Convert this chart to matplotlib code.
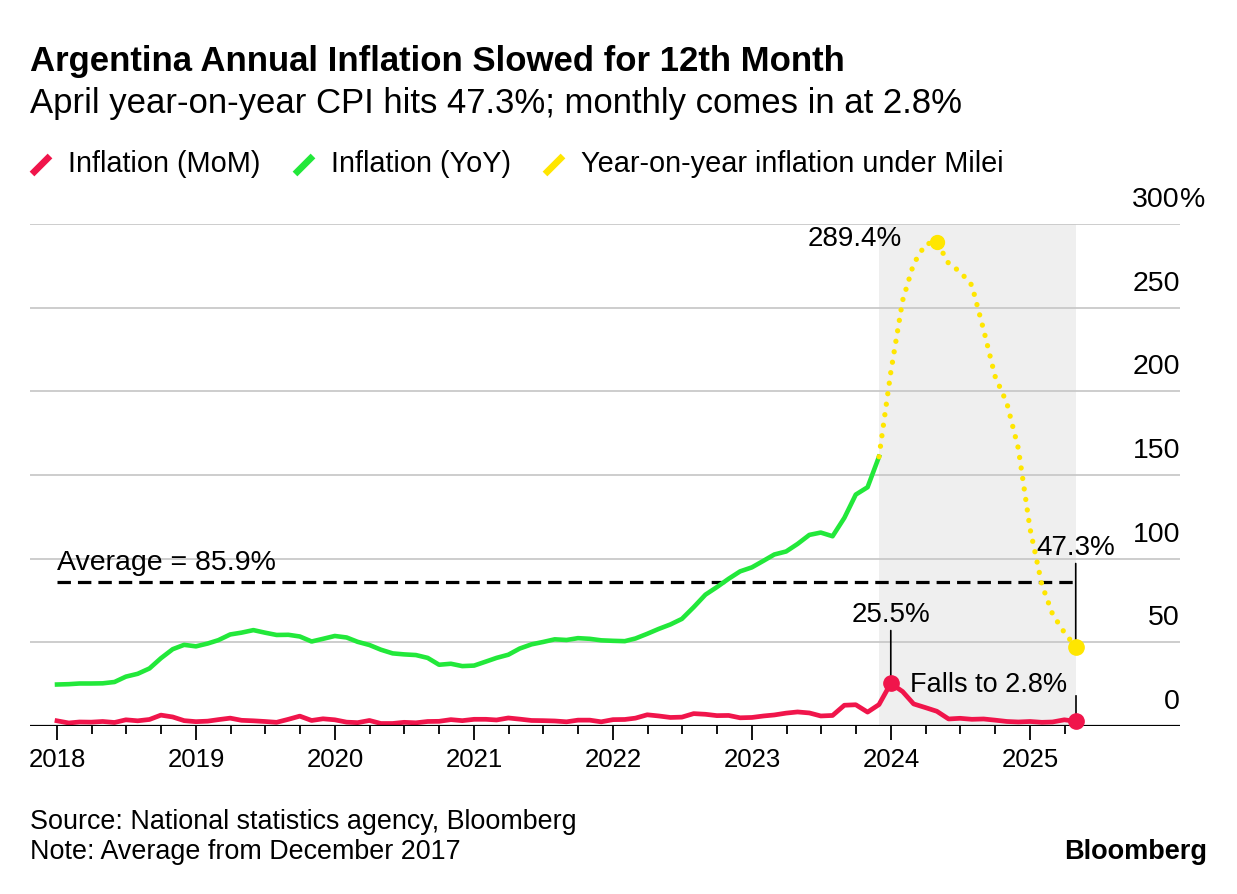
import numpy as np
import pandas as pd
import matplotlib
matplotlib.use("Agg")
import matplotlib.pyplot as plt
import matplotlib.dates as mdates
import matplotlib.transforms as mtransforms
from matplotlib.lines import Line2D

plt.rcParams['font.family'] = ['Liberation Sans', 'DejaVu Sans']

# month-end dates, Dec 2017 .. Apr 2025
months = pd.date_range("2017-12-31", "2025-04-30", freq="ME")

# year-on-year CPI, %
yoy = [24.8,
       25.0, 25.4, 25.4, 25.5, 26.3, 29.5, 31.2, 34.4, 40.5, 45.9, 48.5, 47.6,
       49.3, 51.3, 54.7, 55.8, 57.3, 55.8, 54.4, 54.5, 53.5, 50.5, 52.1, 53.8,
       52.9, 50.3, 48.4, 45.6, 43.4, 42.8, 42.4, 40.7, 36.6, 37.2, 35.8, 36.1,
       38.5, 40.7, 42.6, 46.3, 48.8, 50.2, 51.8, 51.4, 52.5, 52.1, 51.2, 50.9,
       50.7, 52.3, 55.1, 58.0, 60.7, 64.0, 71.0, 78.5, 83.0, 88.0, 92.4, 94.8,
       98.8, 102.5, 104.3, 108.8, 114.2, 115.6, 113.4, 124.4, 138.3, 142.7, 160.9, 211.4,
       254.2, 276.2, 287.9, 289.4, 276.4, 271.5, 263.4, 236.7, 209.0, 193.0, 166.0, 117.8,
       84.5, 66.9, 55.9, 47.3]

# month-on-month CPI, %
mom = [3.1,
       1.8, 2.4, 2.3, 2.7, 2.1, 3.7, 3.1, 3.9, 6.5, 5.4, 3.2, 2.6,
       2.9, 3.8, 4.7, 3.4, 3.1, 2.7, 2.2, 4.0, 5.9, 3.3, 4.3, 3.7,
       2.3, 2.0, 3.3, 1.5, 1.5, 2.2, 1.9, 2.7, 2.8, 3.8, 3.2, 4.0,
       4.0, 3.6, 4.8, 4.1, 3.3, 3.2, 3.0, 2.5, 3.5, 3.5, 2.5, 3.8,
       3.9, 4.7, 6.7, 6.0, 5.1, 5.3, 7.4, 7.0, 6.2, 6.3, 4.9, 5.1,
       6.0, 6.6, 7.7, 8.4, 7.8, 6.0, 6.3, 12.4, 12.7, 8.3, 12.8, 25.5,
       20.6, 13.2, 11.0, 8.8, 4.2, 4.6, 4.0, 4.2, 3.5, 2.7, 2.4, 2.7,
       2.2, 2.4, 3.7, 2.8]

average = 85.9
milei_start = "2023-11-30"   # last pre-Milei reading (Nov 2023)
y_ticks = [0, 50, 100, 150, 200, 250, 300]
year_ticks = list(range(2018, 2026))

RED = "#f0154b"
GREEN = "#22e83a"
YELLOW = "#ffe600"
GREY_BAND = "#efefef"

fig = plt.figure(figsize=(12.37, 8.94), dpi=100)
W, H = 1237, 894


def fx(px):
    return px / W


def fy(py):
    return 1 - py / H


ax = fig.add_axes([fx(30), fy(726), fx(1180) - fx(30), fy(224) - fy(726)])
ax.set_xlim(pd.Timestamp("2017-10-21"), pd.Timestamp("2026-01-29"))
ax.set_ylim(0, 300)

for s in ax.spines.values():
    s.set_visible(False)

# grid + labels on the right
trans = mtransforms.blended_transform_factory(ax.transAxes, ax.transData)
for v in y_ticks[1:]:
    ax.axhline(v, color="#c9c9c9", lw=1.3, zorder=1)
for v in y_ticks:
    ax.annotate(str(v), (1.0, v), xycoords=trans, xytext=(0, 8),
                textcoords="offset points", ha="right", va="bottom",
                fontsize=20.5)
ax.annotate("%", (1.0, 300), xycoords=trans, xytext=(0, 8),
            textcoords="offset points", ha="left", va="bottom", fontsize=20.5)
ax.axhline(0, color="black", lw=1.6, zorder=6)

# Milei shading
ax.axvspan(pd.Timestamp(milei_start), months[-1], color=GREY_BAND, lw=0, zorder=0)

# lines
split = list(months).index(pd.Timestamp(milei_start))
ax.plot(months[:split + 1], yoy[:split + 1], color=GREEN, lw=3.3,
        solid_joinstyle="round", zorder=4)
ax.plot(months[split:], yoy[split:], color=YELLOW, lw=3.8,
        linestyle=(0, (0.01, 2.0)), dash_capstyle="round", zorder=4)
ax.plot(months, mom, color=RED, lw=3.4, solid_joinstyle="round", zorder=5)

# average line
ax.plot([months[0], months[-1]], [average, average], color="black", lw=2.3,
        linestyle=(0, (4.2, 2.2)), zorder=3)
ax.text(months[0], average + 4, f"Average = {average}%", fontsize=20.5,
        ha="left", va="bottom", zorder=7)

# highlighted points
i_peak = int(np.argmax(yoy))
i_mom_peak = int(np.argmax(mom))
ax.plot(months[i_peak], yoy[i_peak], "o", color=YELLOW, ms=10, zorder=8, clip_on=False)
ax.plot(months[-1], yoy[-1], "o", color=YELLOW, ms=11, zorder=8, clip_on=False)
ax.plot(months[i_mom_peak], mom[i_mom_peak], "o", color=RED, ms=11, zorder=8)
ax.plot(months[-1], mom[-1], "o", color=RED, ms=11, zorder=8, clip_on=False)

ax.annotate(f"{yoy[i_peak]}%", (months[i_peak], yoy[i_peak]), xytext=(-25, 2),
            textcoords="offset points", ha="right", va="center", fontsize=20)

ax.annotate(f"{yoy[-1]}%", (months[-1], yoy[-1]), xytext=(0, 62),
            textcoords="offset points", ha="center", va="bottom", fontsize=20,
            arrowprops=dict(arrowstyle="-", color="black", lw=1.2,
                            shrinkA=0, shrinkB=0))
ax.annotate(f"{mom[i_mom_peak]}%", (months[i_mom_peak], mom[i_mom_peak]),
            xytext=(0, 40), textcoords="offset points", ha="center",
            va="bottom", fontsize=20,
            arrowprops=dict(arrowstyle="-", color="black", lw=1.2,
                            shrinkA=0, shrinkB=0))
ax.plot([months[-1], months[-1]], [mom[-1], mom[-1] + 15], color="black",
        lw=1.2, zorder=7)
ax.annotate(f"Falls to {mom[-1]}%", (months[-1], mom[-1] + 15), xytext=(-6, -1),
            textcoords="offset points", ha="right", va="bottom", fontsize=19.5)

# x axis: yearly major ticks, quarterly minor ticks up to the last reading
quarter_ticks = [d for d in pd.date_range("2018-04-01", months[-1], freq="QS-JAN")
                 if d.month != 1]
ax.set_xticks([pd.Timestamp(f"{y}-01-01") for y in year_ticks])
ax.set_xticks(quarter_ticks, minor=True)
ax.xaxis.set_major_formatter(mdates.DateFormatter("%Y"))
ax.tick_params(axis="x", which="major", length=10, width=1.3, pad=6,
               labelsize=18.5, direction="out")
ax.tick_params(axis="x", which="minor", length=6, width=1.3, direction="out")
ax.tick_params(axis="y", left=False, labelleft=False)

# titles
fig.text(fx(30), fy(62), "Argentina Annual Inflation Slowed for 12th Month",
         fontsize=25, fontweight="bold", ha="left", va="center")
fig.text(fx(30), fy(104), "April year-on-year CPI hits 47.3%; monthly comes in at 2.8%",
         fontsize=25, ha="left", va="center")

# legend
legend_items = [("Inflation (MoM)", RED, 30), ("Inflation (YoY)", GREEN, 293),
                ("Year-on-year inflation under Milei", YELLOW, 543)]
for label, col, x0 in legend_items:
    fig.add_artist(Line2D([fx(x0 + 2), fx(x0 + 20)], [fy(174), fy(156)],
                          color=col, lw=4.8, solid_capstyle="butt"))
    fig.text(fx(x0 + 38), fy(164), label, fontsize=20.8, ha="left", va="center")

# footer
fig.text(fx(30), fy(822), "Source: National statistics agency, Bloomberg",
         fontsize=19.4, ha="left", va="center")
fig.text(fx(30), fy(852), "Note: Average from December 2017",
         fontsize=19.4, ha="left", va="center")
fig.text(fx(1207), fy(852), "Bloomberg", fontsize=19.5, fontweight="bold",
         ha="right", va="center")

fig.savefig("out.png", dpi=100)
